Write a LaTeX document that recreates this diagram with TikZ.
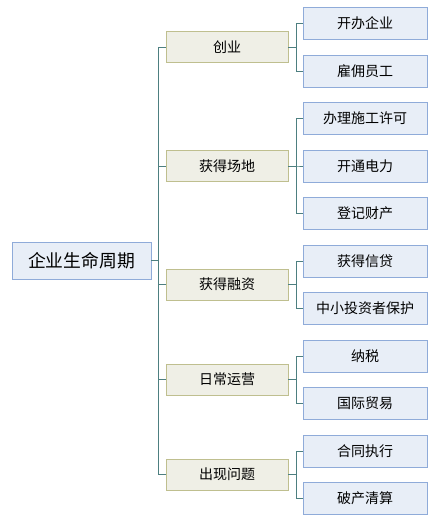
\documentclass[tikz,border=0pt]{standalone}
\usepackage{fontspec}
\setmainfont{Noto Sans CJK SC}
\usetikzlibrary{positioning}
\definecolor{bluefill}{HTML}{E8EEF7}
\definecolor{blueline}{HTML}{8FABD9}
\definecolor{olivefill}{HTML}{EFEFE6}
\definecolor{oliveline}{HTML}{BFBF8F}
\definecolor{linkcol}{HTML}{4D7F80}
\tikzset{
  rootbox/.style={draw=blueline, fill=bluefill, line width=0.9pt, minimum width=139pt, minimum height=37pt, inner sep=0pt, font=\fontsize{17.8}{21}\selectfont},
  topicbox/.style={draw=oliveline, fill=olivefill, line width=0.9pt, minimum width=122pt, minimum height=31pt, inner sep=0pt, font=\fontsize{14}{17}\selectfont},
  leafbox/.style={draw=blueline, fill=bluefill, line width=0.9pt, minimum width=124pt, minimum height=32pt, inner sep=0pt, font=\fontsize{14}{17}\selectfont},
  link/.style={draw=linkcol, line width=1pt},
}
\begin{document}
\begin{tikzpicture}[x=1pt, y=-1pt]
  \useasboundingbox (0,0) rectangle (445,522);

  % root
  \node[rootbox] (life) at (81.5,260.5) {企业生命周期};

  % stages
  \foreach \name/\y/\txt in {start/47/创业, site/166/获得场地, fund/284.5/获得融资,
                             oper/379.5/日常运营, trouble/474.5/出现问题}
    \node[topicbox] (\name) at (227,\y) {\txt};

  % items
  \foreach \name/\y/\txt in {open/23/开办企业, hire/71/雇佣员工, permit/118/办理施工许可,
                             power/166/开通电力, prop/213/登记财产, credit/261/获得信贷,
                             invest/308/中小投资者保护, tax/356/纳税, trade/403/国际贸易,
                             contract/451/合同执行, insolv/498/破产清算}
    \node[leafbox] (\name) at (365,\y) {\txt};

  % root to stages
  \foreach \t in {start,site,fund,oper,trouble}
    \draw[link] (life.east) -- ++(7,0) |- (\t.west);

  % stages to items
  \foreach \t/\l in {start/open, start/hire, site/permit, site/power, site/prop,
                     fund/credit, fund/invest, oper/tax, oper/trade,
                     trouble/contract, trouble/insolv}
    \draw[link] (\t.east) -- ++(8,0) |- (\l.west);
\end{tikzpicture}
\end{document}
